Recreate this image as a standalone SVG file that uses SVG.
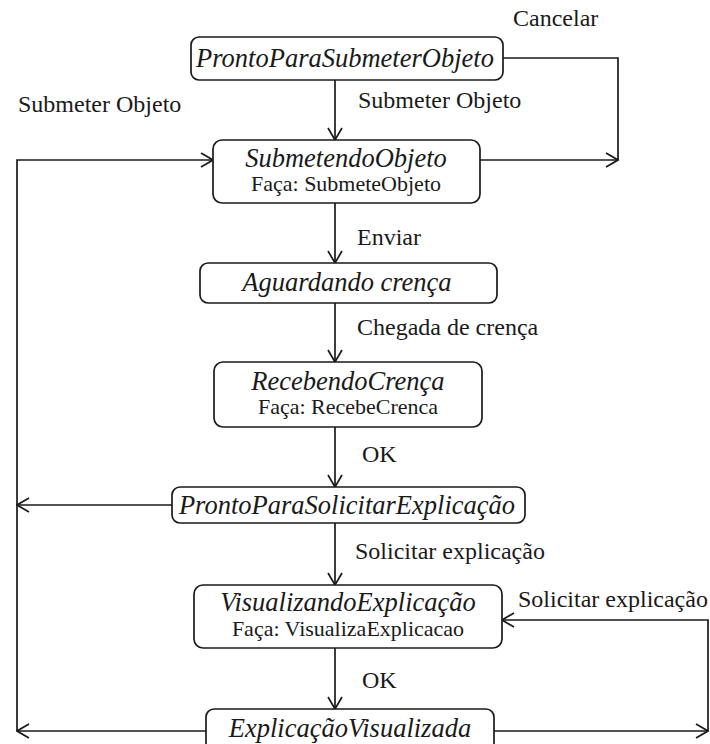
<svg xmlns="http://www.w3.org/2000/svg" width="710" height="744" viewBox="0 0 710 744">
  <style>
    .box { fill: #ffffff; stroke: #1a1a1a; stroke-width: 1.7; }
    text { font-family: "Liberation Serif", "DejaVu Serif", "Times New Roman", serif; fill: #1a1a1a; }
    .title { font-style: italic; font-size: 26.5px; text-anchor: middle; }
    .sub { font-size: 22px; text-anchor: middle; }
    .lbl { font-size: 24px; }
    .edge { fill: none; stroke: #1a1a1a; stroke-width: 1.7; }
    .arr { fill: none; stroke: #1a1a1a; stroke-width: 1.7; marker-end: url(#open); }
  </style>
  <defs>
    <marker id="open" viewBox="0 0 14 16" refX="13" refY="8" markerWidth="14" markerHeight="16" markerUnits="userSpaceOnUse" orient="auto">
      <path d="M1,1 L13,8 L1,15" fill="none" stroke="#1a1a1a" stroke-width="1.7"/>
    </marker>
  </defs>
  <rect width="710" height="744" fill="#ffffff"/>

  <g id="connectors">
    <!-- Cancelar from both submission states -->
    <polyline class="edge" points="503,58 618,58 618,160"/>
    <line class="arr" x1="480" y1="160" x2="618" y2="160"/>
    <!-- main flow -->
    <line class="arr" x1="335" y1="80" x2="335" y2="140"/>
    <line class="arr" x1="335" y1="203" x2="335" y2="263"/>
    <line class="arr" x1="335" y1="303" x2="335" y2="362"/>
    <line class="arr" x1="335" y1="427" x2="335" y2="487"/>
    <line class="arr" x1="335" y1="523" x2="335" y2="585"/>
    <line class="arr" x1="335" y1="648" x2="335" y2="709"/>
    <!-- back to SubmetendoObjeto -->
    <polyline class="arr" points="17,731 17,160 213,160"/>
    <line class="arr" x1="172" y1="505" x2="17" y2="505"/>
    <line class="arr" x1="206" y1="731" x2="17" y2="731"/>
    <!-- repeat explanation -->
    <line class="arr" x1="494" y1="731" x2="708" y2="731"/>
    <polyline class="arr" points="708,731 708,620 502,620"/>

    <text class="lbl" x="513" y="26">Cancelar</text>
    <text class="lbl" x="358" y="108">Submeter Objeto</text>
    <text class="lbl" x="18" y="112">Submeter Objeto</text>
    <text class="lbl" x="357" y="245">Enviar</text>
    <text class="lbl" x="357" y="335">Chegada de crença</text>
    <text class="lbl" x="362" y="462">OK</text>
    <text class="lbl" x="355" y="559">Solicitar explicação</text>
    <text class="lbl" x="518" y="607">Solicitar explicação</text>
    <text class="lbl" x="362" y="688">OK</text>
  </g>

  <g id="prontoParaSubmeterObjeto">
    <rect class="box" x="191" y="37" width="312" height="43" rx="8"/>
    <text class="title" x="345" y="67">ProntoParaSubmeterObjeto</text>
  </g>
  <g id="submetendoObjeto">
    <rect class="box" x="213" y="140" width="267" height="63" rx="9"/>
    <text class="title" x="346" y="167">SubmetendoObjeto</text>
    <text class="sub" x="346" y="191">Faça: SubmeteObjeto</text>
  </g>
  <g id="aguardandoCrenca">
    <rect class="box" x="200" y="263" width="297" height="40" rx="8"/>
    <text class="title" x="347" y="291">Aguardando crença</text>
  </g>
  <g id="recebendoCrenca">
    <rect class="box" x="214" y="362" width="268" height="65" rx="9"/>
    <text class="title" x="348" y="390">RecebendoCrença</text>
    <text class="sub" x="348" y="414">Faça: RecebeCrenca</text>
  </g>
  <g id="prontoParaSolicitarExplicacao">
    <rect class="box" x="172" y="487" width="353" height="36" rx="8"/>
    <text class="title" x="347" y="514">ProntoParaSolicitarExplicação</text>
  </g>
  <g id="visualizandoExplicacao">
    <rect class="box" x="194" y="585" width="308" height="63" rx="9"/>
    <text class="title" x="348" y="611">VisualizandoExplicação</text>
    <text class="sub" x="348" y="636">Faça: VisualizaExplicacao</text>
  </g>
  <g id="explicacaoVisualizada">
    <rect class="box" x="206" y="709" width="288" height="50" rx="8"/>
    <text class="title" x="350" y="737">ExplicaçãoVisualizada</text>
  </g>
</svg>
